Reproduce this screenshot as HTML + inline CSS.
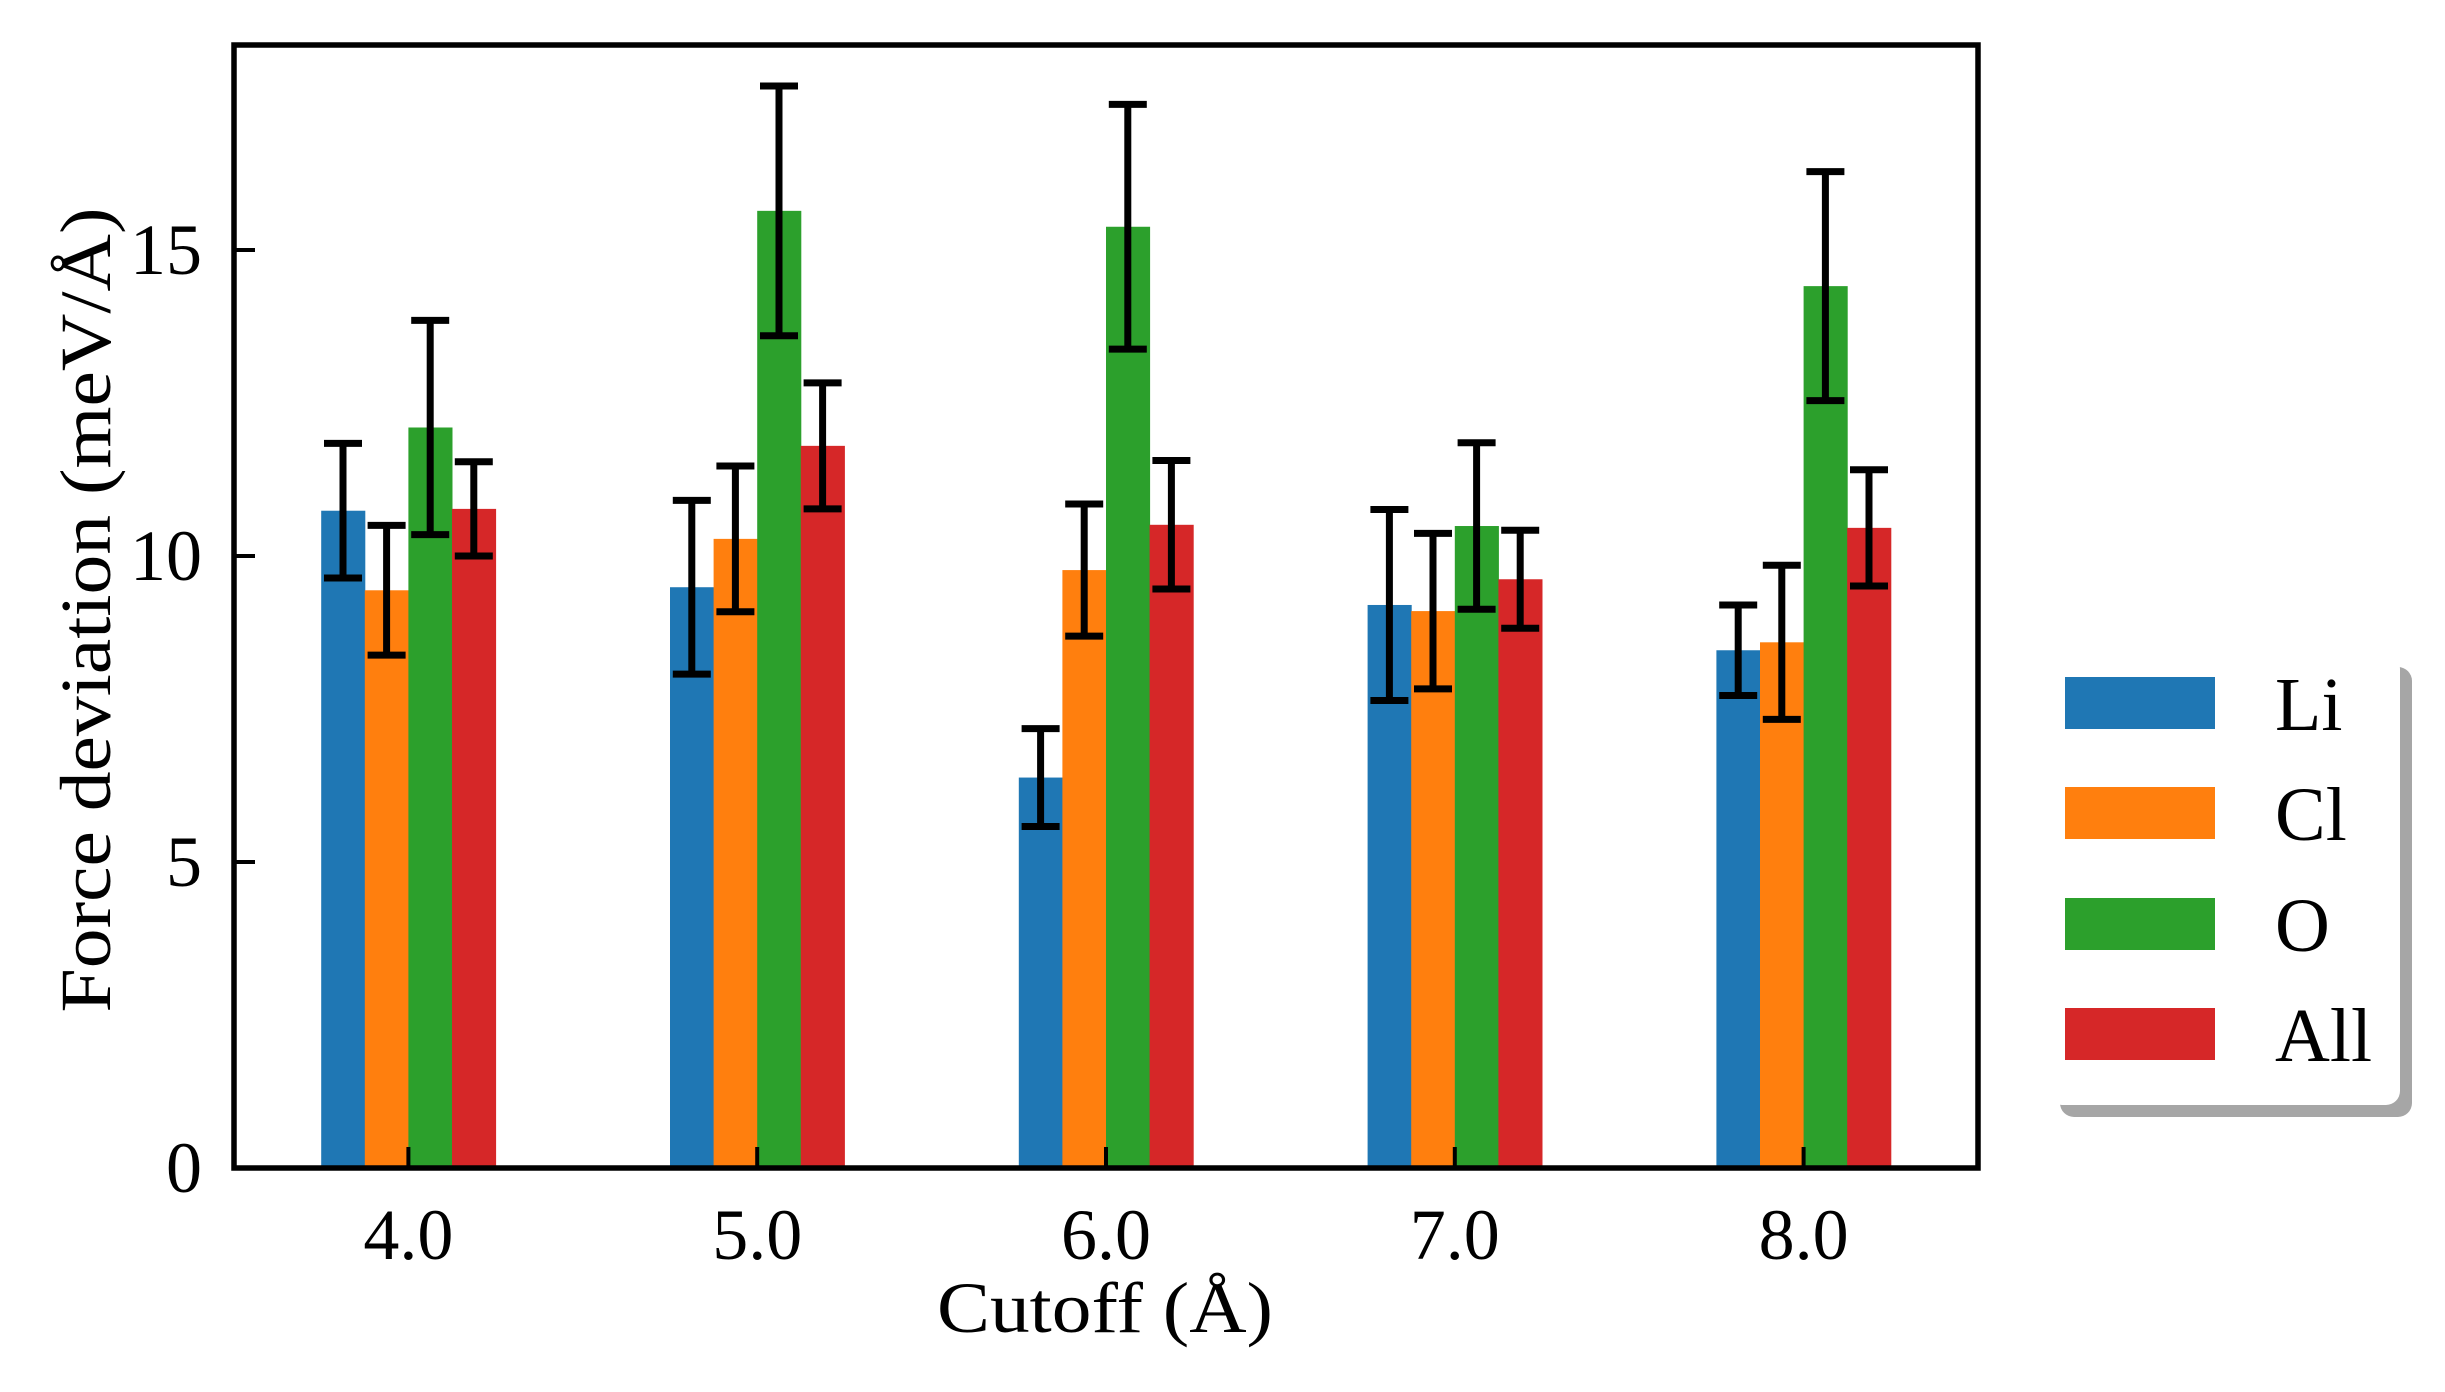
<!DOCTYPE html>
<html><head><meta charset="utf-8"><style>
html,body{margin:0;padding:0;background:#fff;}
svg{display:block;font-family:"Liberation Serif","DejaVu Serif",serif;}
</style></head><body>
<svg id="chart" width="2445" height="1392" viewBox="0 0 2445 1392" xmlns="http://www.w3.org/2000/svg">
<g id="plot"></g>
</svg>
<script>
const categories = ["4.0","5.0","6.0","7.0","8.0"];
const seriesNames = ["Li","Cl","O","All"];
const liValues = [10.74, 9.49, 6.38, 9.2, 8.46];
const clValues = [9.44, 10.28, 9.77, 9.1, 8.59];
const oValues = [12.1, 15.64, 15.38, 10.49, 14.41];
const allValues = [10.77, 11.8, 10.51, 9.62, 10.46];
const liErrors = [1.1, 1.42, 0.8, 1.56, 0.74];
const clErrors = [1.06, 1.19, 1.08, 1.27, 1.26];
const oErrors = [1.75, 2.04, 2.0, 1.36, 1.87];
const allErrors = [0.77, 1.03, 1.05, 0.8, 0.95];
const yTicks = [0, 5, 10, 15];

const colors = ["#1f77b4","#ff7f0e","#2ca02c","#d62728"];
const values = [liValues, clValues, oValues, allValues];
const errors = [liErrors, clErrors, oErrors, allErrors];
const L=234, R=1978, T=45, B=1168;
const yMax=18.35, xMin=-0.5, xMax=4.5, barW=0.125;
const xs = v => L + (v - xMin) / (xMax - xMin) * (R - L);
const ys = v => B - v / yMax * (B - T);
const NS="http://www.w3.org/2000/svg";
const plot=document.getElementById('plot');
function mk(tag, attrs, parent){const e=document.createElementNS(NS,tag);for(const k in attrs)e.setAttribute(k,attrs[k]);(parent||plot).appendChild(e);return e;}

values.forEach((arr,s)=>{
  arr.forEach((v,i)=>{
    const x0=xs(i+(s-2)*barW), x1=xs(i+(s-1)*barW);
    const r=mk('rect',{x:x0,y:ys(v),width:x1-x0+0.5,height:ys(0)-ys(v),fill:colors[s]});
    
    
  });
});
values.forEach((arr,s)=>{
  arr.forEach((v,i)=>{
    const cx=xs(i+(s-1.5)*barW), e=errors[s][i];
    const g=mk('g',{stroke:'#000','stroke-width':7});
    
    
    mk('line',{x1:cx,x2:cx,y1:ys(v+e),y2:ys(v-e)},g);
    mk('line',{x1:cx-19,x2:cx+19,y1:ys(v+e),y2:ys(v+e)},g);
    mk('line',{x1:cx-19,x2:cx+19,y1:ys(v-e),y2:ys(v-e)},g);
  });
});
yTicks.forEach(t=>{
  const ln=mk('line',{x1:L,x2:L+21,y1:ys(t),y2:ys(t),stroke:'#000','stroke-width':4});
  
  
  const tx=mk('text',{x:202,y:ys(t)+24,'text-anchor':'end','font-size':72,fill:'#000'});
  tx.textContent=t;
  
  
});
categories.forEach((c,i)=>{
  const ln=mk('line',{x1:xs(i),x2:xs(i),y1:B,y2:B-21,stroke:'#000','stroke-width':4});
  
  
  const tx=mk('text',{x:xs(i),y:1259,'text-anchor':'middle','font-size':72,fill:'#000'});
  tx.textContent=c;
  
  
});
const fr=mk('rect',{x:L,y:T,width:R-L,height:B-T,fill:'none',stroke:'#000','stroke-width':5.5});


const xt=mk('text',{x:1105,y:1332,'text-anchor':'middle','font-size':72,fill:'#000',textLength:336,lengthAdjust:'spacingAndGlyphs'});
xt.textContent='Cutoff (Å)';


const yt=mk('text',{x:0,y:0,'text-anchor':'middle','font-size':72,fill:'#000',transform:'translate(110,610) rotate(-90)',textLength:805,lengthAdjust:'spacingAndGlyphs'});
yt.textContent='Force deviation (meV/Å)';


const lg=mk('g',{});


mk('rect',{x:2060,y:667,width:352,height:450,rx:14,fill:'#a6a6a6'},lg);
mk('rect',{x:2048,y:655,width:352,height:450,rx:14,fill:'#fff'},lg);
const patchY=[677,787,898,1008];
seriesNames.forEach((n,s)=>{
  const p=mk('rect',{x:2065,y:patchY[s],width:150,height:52,fill:colors[s]},lg);
  
  
  const t=mk('text',{x:2275,y:patchY[s]+53,'font-size':76,fill:'#000'},lg);
  t.textContent=n;
  
  
});
</script>
</body></html>
